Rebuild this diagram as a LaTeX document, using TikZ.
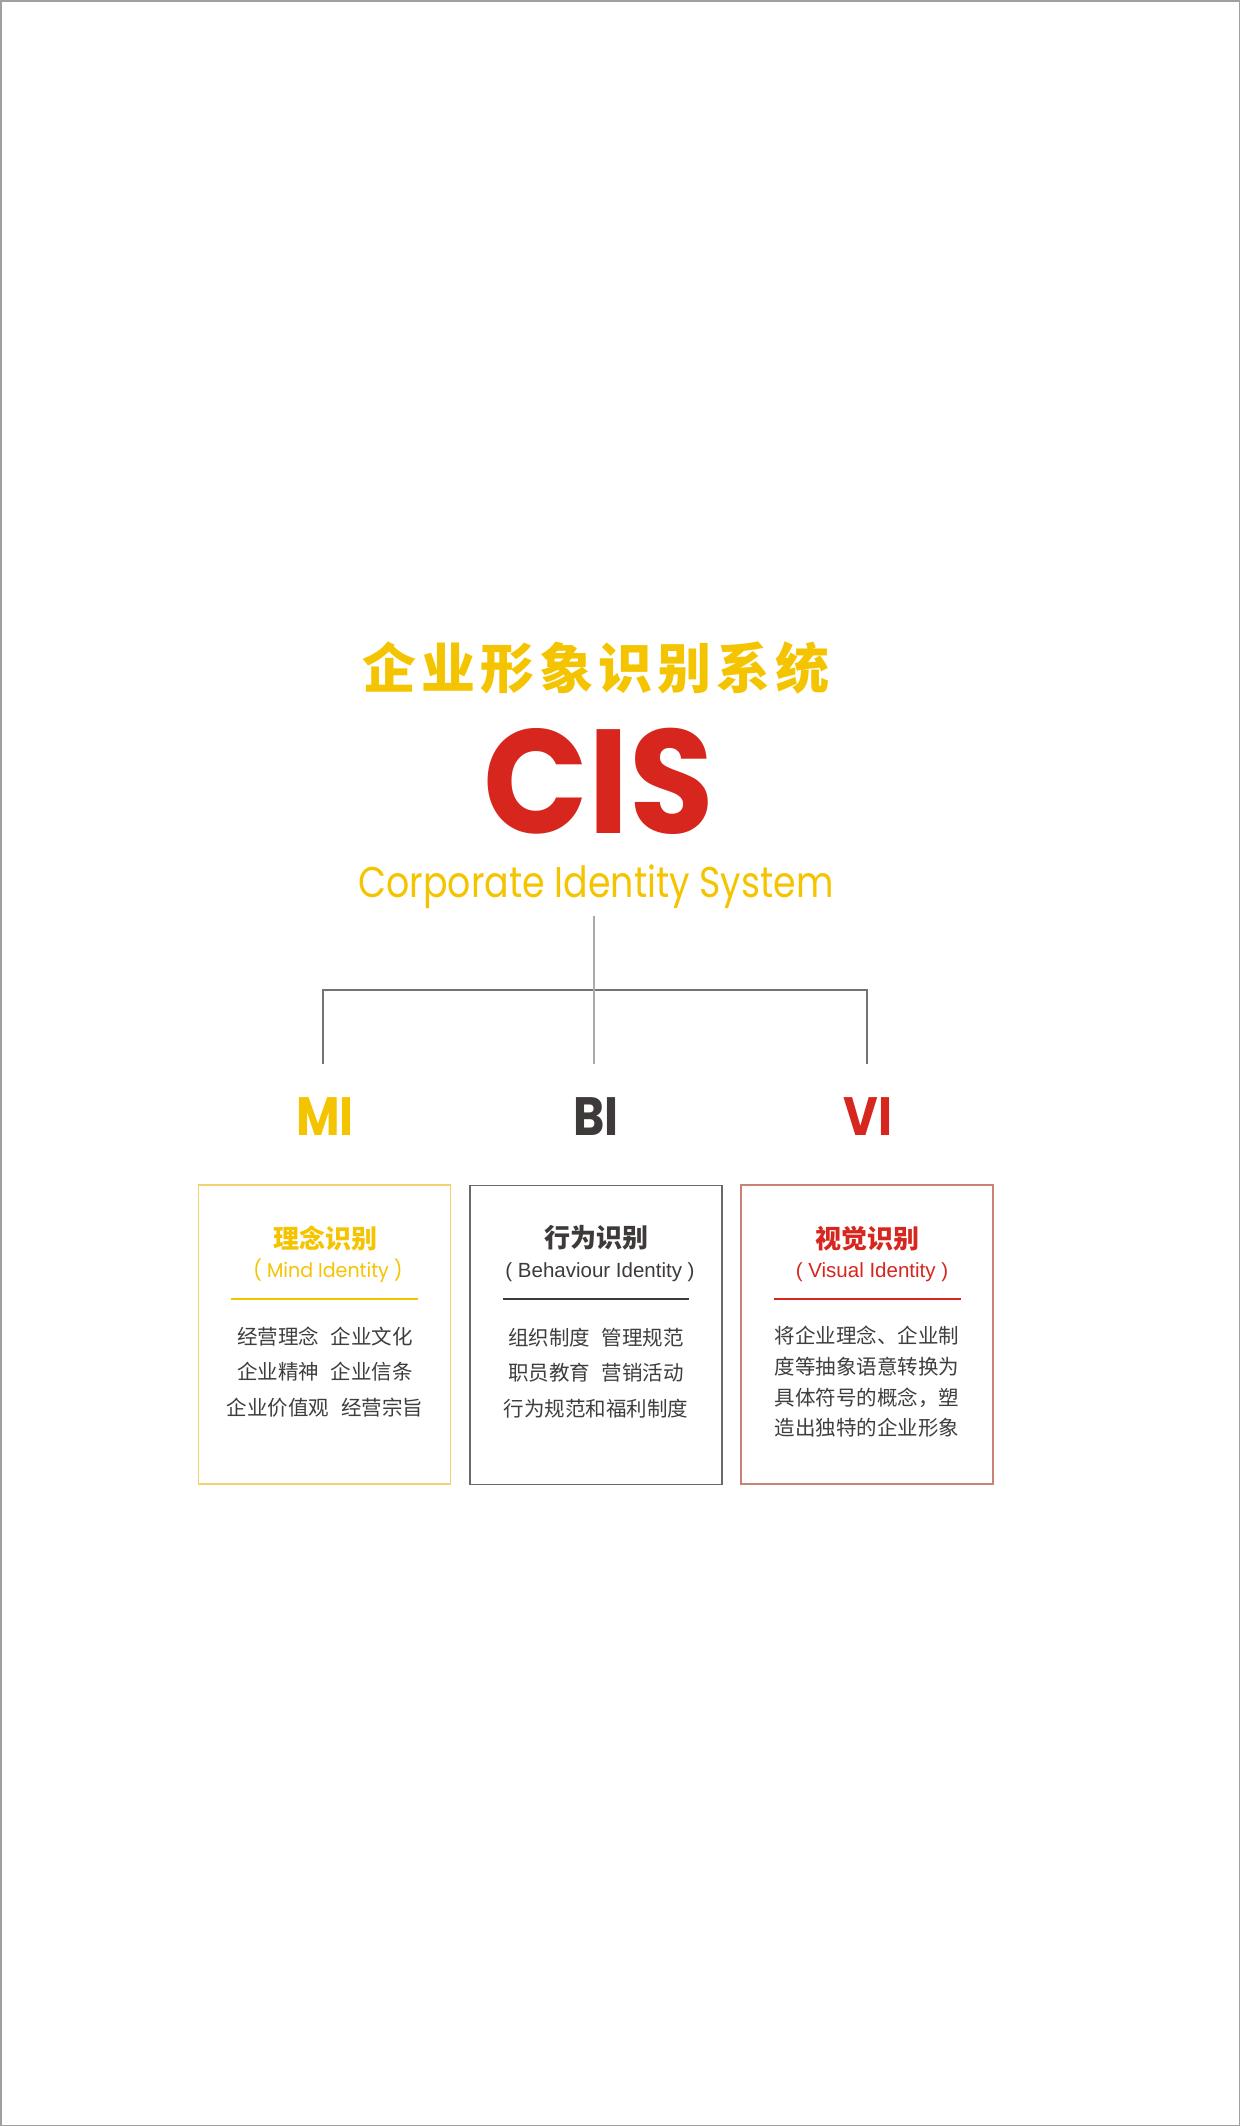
\documentclass[tikz,border=0pt]{standalone}
\usepackage{fontspec}
\usepackage{graphicx}
\newfontfamily\cjk{Noto Sans CJK SC}
\newfontfamily\pop{Poppins}
\newfontfamily\lib{Liberation Sans}
\definecolor{cyel}{RGB}{245,196,0}
\definecolor{cred}{RGB}{214,38,30}
\definecolor{cdark}{RGB}{62,58,57}
\definecolor{ctext}{RGB}{62,62,62}
\definecolor{cline}{RGB}{115,115,115}
\definecolor{clinelt}{RGB}{170,170,170}
\definecolor{cpage}{RGB}{160,160,160}
\definecolor{cbox1}{RGB}{242,210,110}
\definecolor{cbox2}{RGB}{105,105,105}
\definecolor{cbox3}{RGB}{200,130,120}
\newcommand{\hsc}[2]{\scalebox{#1}[1]{#2}}
\begin{document}
\begin{tikzpicture}[x=1pt,y=-1pt,
  pageframe/.style={draw=cpage,line width=1.5pt},
  conn/.style={draw=cline,line width=1.6pt},
  connlt/.style={draw=clinelt,line width=2pt},
  card/.style={minimum width=252pt,minimum height=299pt,inner sep=0pt,line width=1.3pt,fill=white},
  cardtitle/.style={font=\cjk\bfseries\fontsize{26}{26}\selectfont,inner sep=0pt},
  cardsub/.style={anchor=base,inner sep=0pt},
  cardbody/.style={font=\cjk\fontsize{20.5}{35.5}\selectfont,text=ctext,align=center,inner sep=0pt},
  rule/.style={line width=2.2pt},
  letter/.style={anchor=base,inner sep=0pt,font=\pop\bfseries\fontsize{54}{54}\selectfont}
]
\useasboundingbox (0,0) rectangle (1240,2126);
\draw[pageframe] (0.75,0.75) rectangle (1239.25,2125.25);

% header
\node[inner sep=0pt,text=cyel,font=\cjk\bfseries\fontsize{54}{54}\selectfont] (title) at (596,668)
  {企\hspace{5pt}业\hspace{5pt}形\hspace{5pt}象\hspace{5pt}识\hspace{5pt}别\hspace{5pt}系\hspace{5pt}统};
\node[anchor=base,inner sep=0pt,text=cred,font=\pop\bfseries\fontsize{148}{148}\selectfont] (cis) at (599,833)
  {\hsc{0.93}{CIS}};
\node[anchor=base,inner sep=0pt,text=cyel,font=\pop\fontsize{43}{43}\selectfont] (sub) at (596,897)
  {\hsc{0.845}{Corporate Identity System}};

% connectors
\coordinate (top) at (594,916);
\coordinate (hub) at (594,990);
\coordinate (lj) at (323,990);
\coordinate (rj) at (867,990);
\coordinate (lend) at (323,1064);
\coordinate (mend) at (594,1064);
\coordinate (rend) at (867,1064);
\draw[conn] (lend) -- (lj) -- (rj) -- (rend);
\draw[connlt] (top) -- (mend);

% letters
\node[letter,text=cyel] (mi) at (325,1135) {\hsc{0.88}{MI}};
\node[letter,text=cdark] (bi) at (596,1135) {\hsc{0.88}{BI}};
\node[letter,text=cred] (vi) at (868,1135) {\hsc{0.88}{VI}};

% cards
\node[card,draw=cbox1] (box1) at (324.5,1334.5) {};
\node[card,draw=cbox2] (box2) at (596,1335) {};
\node[card,draw=cbox3] (box3) at (867,1334.5) {};

% card 1
\node[cardtitle,text=cyel] (t1) at (325,1238) {理念识别};
\node[cardsub,text=cyel,font=\pop\fontsize{20}{20}\selectfont] (s1) at (328,1277) {\hsc{0.95}{( Mind Identity )}};
\coordinate (r1a) at (231,1299);
\coordinate (r1b) at (418,1299);
\draw[rule,cyel] (r1a) -- (r1b);
\node[cardbody] (b1) at (325,1372)
  {经营理念\hspace{12pt}企业文化\\企业精神\hspace{12pt}企业信条\\企业价值观\hspace{12pt}经营宗旨};

% card 2
\node[cardtitle,text=cdark] (t2) at (596,1238) {行为识别};
\node[cardsub,text=cdark,font=\lib\fontsize{20.5}{20.5}\selectfont] (s2) at (600,1277) {( Behaviour Identity )};
\coordinate (r2a) at (503,1299);
\coordinate (r2b) at (689,1299);
\draw[rule,cdark] (r2a) -- (r2b);
\node[cardbody] (b2) at (596,1373)
  {组织制度\hspace{12pt}管理规范\\职员教育\hspace{12pt}营销活动\\行为规范和福利制度};

% card 3
\node[cardtitle,text=cred] (t3) at (867,1239) {视觉识别};
\node[cardsub,text=cred,font=\lib\fontsize{20.5}{20.5}\selectfont] (s3) at (872,1277) {( Visual Identity )};
\coordinate (r3a) at (774,1299);
\coordinate (r3b) at (961,1299);
\draw[rule,cred] (r3a) -- (r3b);
\node[cardbody,font=\cjk\fontsize{20.5}{30.7}\selectfont] (b3) at (867,1382)
  {将企业理念、企业制\\度等抽象语意转换为\\具体符号的概念，塑\\造出独特的企业形象};
\end{tikzpicture}
\end{document}
